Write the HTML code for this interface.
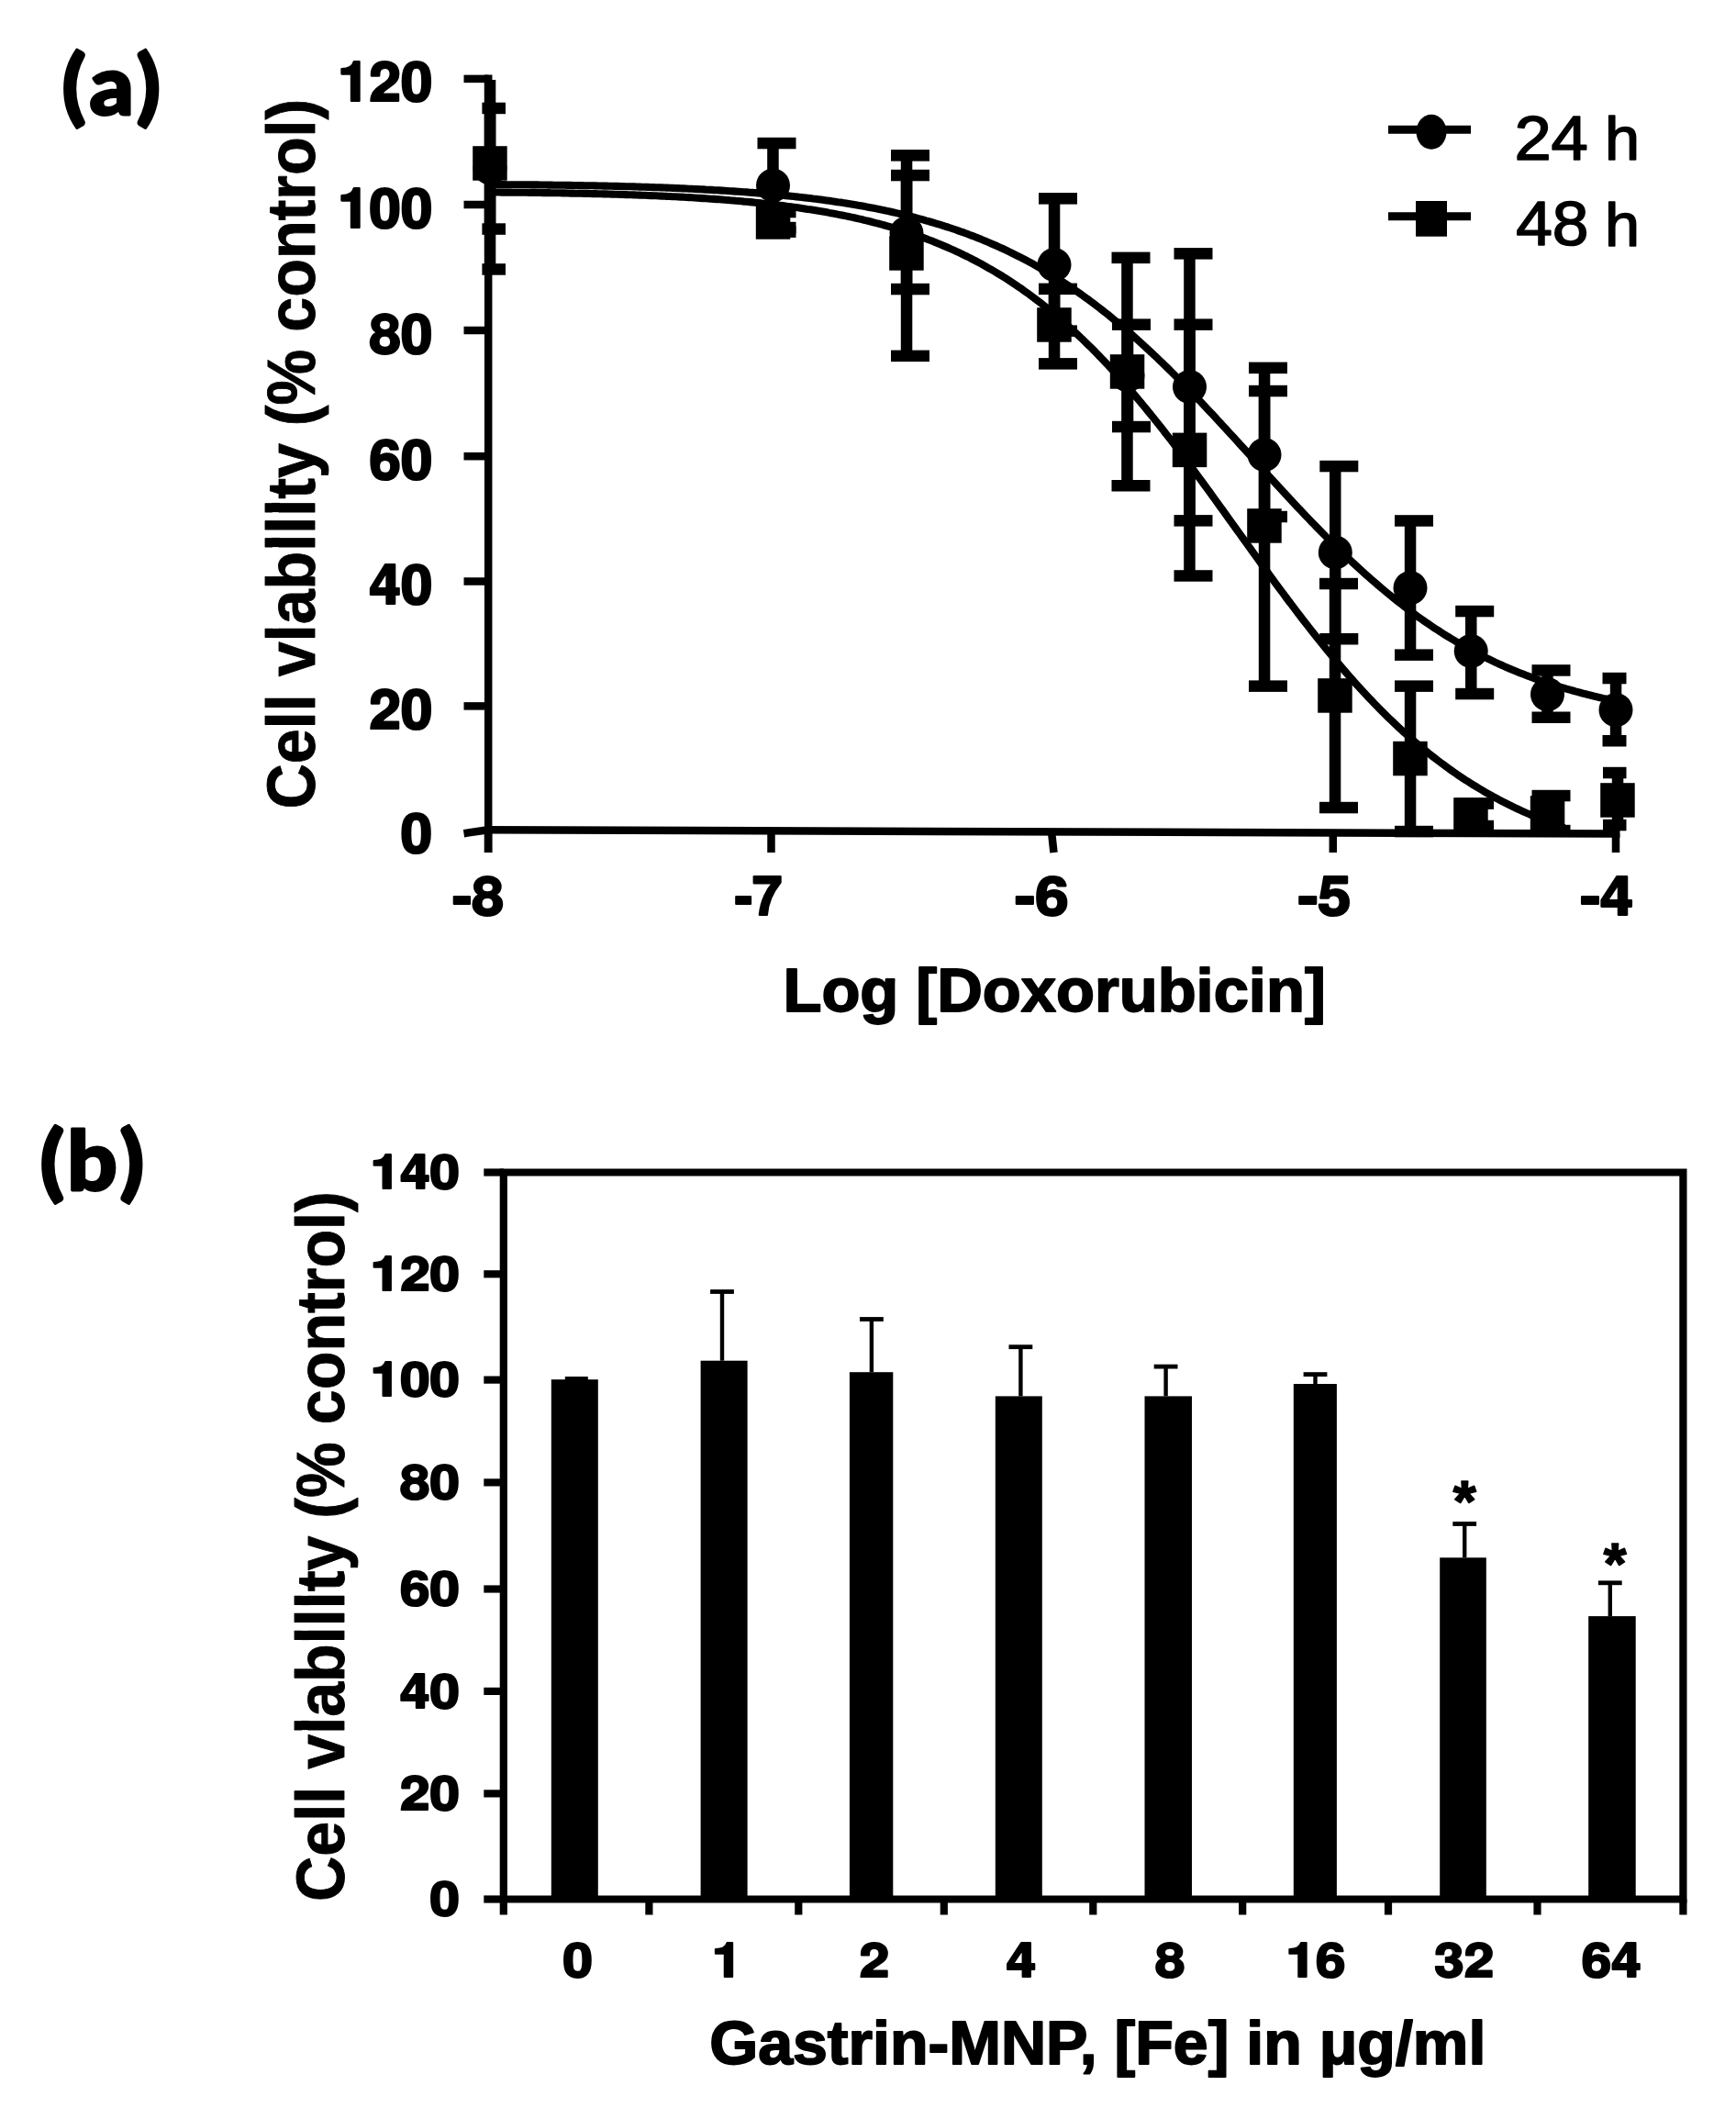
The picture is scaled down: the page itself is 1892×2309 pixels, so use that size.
<!DOCTYPE html>
<html><head><meta charset="utf-8"><title>Cell viability figure</title>
<style>html,body{margin:0;padding:0;background:#fff;}svg{display:block;}</style>
</head><body>
<svg width="1892" height="2309" viewBox="0 0 1892 2309">
<rect width="100%" height="100%" fill="#fff"/>
<text transform="translate(64.40,124.77) scale(1.0649,1)" font-family="Carlito, Calibri, Liberation Sans, sans-serif" font-weight="bold" font-size="95.51" stroke="#000" stroke-width="3" stroke-linejoin="round">(a)</text>
<line x1="532.2" y1="81.6" x2="532.2" y2="929" stroke="#000" stroke-width="8.5"/>
<line x1="528" y1="904.2" x2="1765.5" y2="908.6" stroke="#000" stroke-width="8.5"/>
<line x1="505.5" y1="769.4" x2="532" y2="769.4" stroke="#000" stroke-width="8.5"/>
<line x1="505.5" y1="633.5" x2="532" y2="633.5" stroke="#000" stroke-width="8.5"/>
<line x1="505.5" y1="497.2" x2="532" y2="497.2" stroke="#000" stroke-width="8.5"/>
<line x1="505.5" y1="360" x2="532" y2="360" stroke="#000" stroke-width="8.5"/>
<line x1="505.5" y1="223" x2="532" y2="223" stroke="#000" stroke-width="8.5"/>
<line x1="505.5" y1="85.9" x2="532" y2="85.9" stroke="#000" stroke-width="8.5"/>
<line x1="505.5" y1="908.2" x2="532" y2="904.2" stroke="#000" stroke-width="8.5"/>
<line x1="532" y1="904.2" x2="532" y2="929" stroke="#000" stroke-width="8.5"/>
<line x1="840.5" y1="905.3044751830757" x2="840.5" y2="929" stroke="#000" stroke-width="8.5"/>
<line x1="1146.0" y1="906.4035801464606" x2="1148.5" y2="929" stroke="#000" stroke-width="8.5"/>
<line x1="1452.8" y1="907.4965988608625" x2="1452.8" y2="929" stroke="#000" stroke-width="8.5"/>
<line x1="1761" y1="908.6" x2="1761" y2="929" stroke="#000" stroke-width="8.5"/>
<text transform="translate(436.87,928.70) scale(1.0371,1)" font-family="TeX Gyre Heros, Liberation Sans, Arial, sans-serif" font-weight="bold" font-size="59.59" stroke="#000" stroke-width="2.2" stroke-linejoin="round">0</text>
<text transform="translate(402.57,793.90) scale(1.0371,1)" font-family="TeX Gyre Heros, Liberation Sans, Arial, sans-serif" font-weight="bold" font-size="59.59" stroke="#000" stroke-width="2.2" stroke-linejoin="round">20</text>
<text transform="translate(402.57,658.00) scale(1.0371,1)" font-family="TeX Gyre Heros, Liberation Sans, Arial, sans-serif" font-weight="bold" font-size="59.59" stroke="#000" stroke-width="2.2" stroke-linejoin="round">40</text>
<text transform="translate(402.57,521.70) scale(1.0371,1)" font-family="TeX Gyre Heros, Liberation Sans, Arial, sans-serif" font-weight="bold" font-size="59.59" stroke="#000" stroke-width="2.2" stroke-linejoin="round">60</text>
<text transform="translate(402.57,384.50) scale(1.0371,1)" font-family="TeX Gyre Heros, Liberation Sans, Arial, sans-serif" font-weight="bold" font-size="59.59" stroke="#000" stroke-width="2.2" stroke-linejoin="round">80</text>
<text transform="translate(368.27,247.50) scale(1.0371,1)" font-family="TeX Gyre Heros, Liberation Sans, Arial, sans-serif" font-weight="bold" font-size="59.59" stroke="#000" stroke-width="2.2" stroke-linejoin="round">100</text>
<text transform="translate(368.27,110.40) scale(1.0371,1)" font-family="TeX Gyre Heros, Liberation Sans, Arial, sans-serif" font-weight="bold" font-size="59.59" stroke="#000" stroke-width="2.2" stroke-linejoin="round">120</text>
<text transform="translate(493.34,996.71) scale(1.0661,1)" font-family="TeX Gyre Heros, Liberation Sans, Arial, sans-serif" font-weight="bold" font-size="58.64" stroke="#000" stroke-width="2.2" stroke-linejoin="round">-8</text>
<text transform="translate(800.65,996.71) scale(0.9907,1)" font-family="TeX Gyre Heros, Liberation Sans, Arial, sans-serif" font-weight="bold" font-size="58.64" stroke="#000" stroke-width="2.2" stroke-linejoin="round">-7</text>
<text transform="translate(1106.36,996.71) scale(1.1157,1)" font-family="TeX Gyre Heros, Liberation Sans, Arial, sans-serif" font-weight="bold" font-size="58.64" stroke="#000" stroke-width="2.2" stroke-linejoin="round">-6</text>
<text transform="translate(1414.68,996.71) scale(1.1080,1)" font-family="TeX Gyre Heros, Liberation Sans, Arial, sans-serif" font-weight="bold" font-size="58.64" stroke="#000" stroke-width="2.2" stroke-linejoin="round">-5</text>
<text transform="translate(1722.48,996.71) scale(1.1054,1)" font-family="TeX Gyre Heros, Liberation Sans, Arial, sans-serif" font-weight="bold" font-size="58.64" stroke="#000" stroke-width="2.2" stroke-linejoin="round">-4</text>
<text transform="translate(853.43,1102.11) scale(1.0310,1)" font-family="Liberation Sans, Arial, sans-serif" font-weight="bold" font-size="66.63" stroke="#000" stroke-width="1.8" stroke-linejoin="round">Log [Doxorubicin]</text>
<text transform="translate(343.30,881.43) rotate(-90) scale(1.0040,1.0950)" font-family="Liberation Sans, Arial, sans-serif" font-weight="bold" font-size="68.00" stroke="#000" stroke-width="0.8" stroke-linejoin="round">Cell viability (% control)</text>
<rect x="296.2" y="547.9" width="8.6" height="10.2"/>
<rect x="296.2" y="585.9" width="8.6" height="10.2"/>
<rect x="296.2" y="684.9" width="8.6" height="10.2"/>
<path d="M538.0,201.0 L541.0,201.1 L544.0,201.1 L547.0,201.1 L550.0,201.1 L553.0,201.2 L556.0,201.2 L559.0,201.2 L562.0,201.2 L565.0,201.2 L568.0,201.3 L571.0,201.3 L574.0,201.3 L577.0,201.3 L580.0,201.4 L583.0,201.4 L586.0,201.4 L589.0,201.5 L592.0,201.5 L595.0,201.5 L598.0,201.6 L601.0,201.6 L604.0,201.7 L607.0,201.7 L610.0,201.7 L613.0,201.8 L616.0,201.8 L619.0,201.9 L622.0,201.9 L625.0,202.0 L628.0,202.0 L631.0,202.1 L634.0,202.1 L637.0,202.2 L640.0,202.2 L643.0,202.3 L646.0,202.3 L649.0,202.4 L652.0,202.5 L655.0,202.5 L658.0,202.6 L661.0,202.6 L664.0,202.7 L667.0,202.8 L670.0,202.9 L673.0,202.9 L676.0,203.0 L679.0,203.1 L682.0,203.2 L685.0,203.2 L688.0,203.3 L691.0,203.4 L694.0,203.5 L697.0,203.6 L700.0,203.7 L703.0,203.8 L706.0,203.9 L709.0,204.0 L712.0,204.1 L715.0,204.2 L718.0,204.3 L721.0,204.4 L724.0,204.5 L727.0,204.6 L730.0,204.8 L733.0,204.9 L736.0,205.0 L739.0,205.1 L742.0,205.3 L745.0,205.4 L748.0,205.5 L751.0,205.7 L754.0,205.8 L757.0,206.0 L760.0,206.1 L763.0,206.3 L766.0,206.4 L769.0,206.6 L772.0,206.7 L775.0,206.9 L778.0,207.1 L781.0,207.2 L784.0,207.4 L787.0,207.6 L790.0,207.8 L793.0,208.0 L796.0,208.2 L799.0,208.4 L802.0,208.6 L805.0,208.8 L808.0,209.0 L811.0,209.2 L814.0,209.4 L817.0,209.7 L820.0,209.9 L823.0,210.1 L826.0,210.4 L829.0,210.6 L832.0,210.9 L835.0,211.1 L838.0,211.4 L841.0,211.7 L844.0,211.9 L847.0,212.2 L850.0,212.5 L853.0,212.8 L856.0,213.1 L859.0,213.4 L862.0,213.7 L865.0,214.0 L868.0,214.4 L871.0,214.7 L874.0,215.0 L877.0,215.4 L880.0,215.7 L883.0,216.1 L886.0,216.5 L889.0,216.8 L892.0,217.2 L895.0,217.6 L898.0,218.0 L901.0,218.4 L904.0,218.8 L907.0,219.3 L910.0,219.7 L913.0,220.2 L916.0,220.6 L919.0,221.1 L922.0,221.5 L925.0,222.0 L928.0,222.5 L931.0,223.0 L934.0,223.5 L937.0,224.1 L940.0,224.6 L943.0,225.1 L946.0,225.7 L949.0,226.3 L952.0,226.8 L955.0,227.4 L958.0,228.0 L961.0,228.6 L964.0,229.3 L967.0,229.9 L970.0,230.5 L973.0,231.2 L976.0,231.9 L979.0,232.6 L982.0,233.3 L985.0,234.0 L988.0,234.7 L991.0,235.5 L994.0,236.2 L997.0,237.0 L1000.0,237.8 L1003.0,238.6 L1006.0,239.4 L1009.0,240.3 L1012.0,241.1 L1015.0,242.0 L1018.0,242.9 L1021.0,243.8 L1024.0,244.7 L1027.0,245.6 L1030.0,246.6 L1033.0,247.5 L1036.0,248.5 L1039.0,249.5 L1042.0,250.5 L1045.0,251.6 L1048.0,252.7 L1051.0,253.7 L1054.0,254.8 L1057.0,256.0 L1060.0,257.1 L1063.0,258.3 L1066.0,259.4 L1069.0,260.6 L1072.0,261.9 L1075.0,263.1 L1078.0,264.4 L1081.0,265.7 L1084.0,267.0 L1087.0,268.3 L1090.0,269.7 L1093.0,271.0 L1096.0,272.4 L1099.0,273.9 L1102.0,275.3 L1105.0,276.8 L1108.0,278.3 L1111.0,279.8 L1114.0,281.4 L1117.0,282.9 L1120.0,284.5 L1123.0,286.1 L1126.0,287.8 L1129.0,289.5 L1132.0,291.2 L1135.0,292.9 L1138.0,294.6 L1141.0,296.4 L1144.0,298.2 L1147.0,300.1 L1150.0,301.9 L1153.0,303.8 L1156.0,305.7 L1159.0,307.6 L1162.0,309.6 L1165.0,311.6 L1168.0,313.6 L1171.0,315.7 L1174.0,317.8 L1177.0,319.9 L1180.0,322.0 L1183.0,324.2 L1186.0,326.3 L1189.0,328.6 L1192.0,330.8 L1195.0,333.1 L1198.0,335.4 L1201.0,337.7 L1204.0,340.1 L1207.0,342.4 L1210.0,344.9 L1213.0,347.3 L1216.0,349.8 L1219.0,352.3 L1222.0,354.8 L1225.0,357.3 L1228.0,359.9 L1231.0,362.5 L1234.0,365.1 L1237.0,367.8 L1240.0,370.5 L1243.0,373.2 L1246.0,375.9 L1249.0,378.7 L1252.0,381.4 L1255.0,384.2 L1258.0,387.1 L1261.0,389.9 L1264.0,392.8 L1267.0,395.7 L1270.0,398.6 L1273.0,401.5 L1276.0,404.5 L1279.0,407.5 L1282.0,410.5 L1285.0,413.5 L1288.0,416.6 L1291.0,419.6 L1294.0,422.7 L1297.0,425.8 L1300.0,428.9 L1303.0,432.0 L1306.0,435.2 L1309.0,438.3 L1312.0,441.5 L1315.0,444.7 L1318.0,447.9 L1321.0,451.1 L1324.0,454.3 L1327.0,457.6 L1330.0,460.8 L1333.0,464.1 L1336.0,467.3 L1339.0,470.6 L1342.0,473.9 L1345.0,477.1 L1348.0,480.4 L1351.0,483.7 L1354.0,487.0 L1357.0,490.3 L1360.0,493.6 L1363.0,496.9 L1366.0,500.2 L1369.0,503.5 L1372.0,506.8 L1375.0,510.1 L1378.0,513.4 L1381.0,516.7 L1384.0,520.0 L1387.0,523.2 L1390.0,526.5 L1393.0,529.8 L1396.0,533.0 L1399.0,536.3 L1402.0,539.5 L1405.0,542.8 L1408.0,546.0 L1411.0,549.2 L1414.0,552.4 L1417.0,555.6 L1420.0,558.7 L1423.0,561.9 L1426.0,565.0 L1429.0,568.2 L1432.0,571.3 L1435.0,574.4 L1438.0,577.4 L1441.0,580.5 L1444.0,583.5 L1447.0,586.5 L1450.0,589.5 L1453.0,592.5 L1456.0,595.5 L1459.0,598.4 L1462.0,601.3 L1465.0,604.2 L1468.0,607.0 L1471.0,609.9 L1474.0,612.7 L1477.0,615.5 L1480.0,618.3 L1483.0,621.0 L1486.0,623.7 L1489.0,626.4 L1492.0,629.1 L1495.0,631.7 L1498.0,634.3 L1501.0,636.9 L1504.0,639.5 L1507.0,642.0 L1510.0,644.5 L1513.0,647.0 L1516.0,649.4 L1519.0,651.9 L1522.0,654.2 L1525.0,656.6 L1528.0,658.9 L1531.0,661.3 L1534.0,663.5 L1537.0,665.8 L1540.0,668.0 L1543.0,670.2 L1546.0,672.4 L1549.0,674.5 L1552.0,676.6 L1555.0,678.7 L1558.0,680.7 L1561.0,682.8 L1564.0,684.8 L1567.0,686.7 L1570.0,688.7 L1573.0,690.6 L1576.0,692.5 L1579.0,694.3 L1582.0,696.1 L1585.0,697.9 L1588.0,699.7 L1591.0,701.5 L1594.0,703.2 L1597.0,704.9 L1600.0,706.5 L1603.0,708.2 L1606.0,709.8 L1609.0,711.4 L1612.0,712.9 L1615.0,714.5 L1618.0,716.0 L1621.0,717.5 L1624.0,718.9 L1627.0,720.4 L1630.0,721.8 L1633.0,723.2 L1636.0,724.5 L1639.0,725.9 L1642.0,727.2 L1645.0,728.5 L1648.0,729.8 L1651.0,731.0 L1654.0,732.2 L1657.0,733.4 L1660.0,734.6 L1663.0,735.8 L1666.0,736.9 L1669.0,738.0 L1672.0,739.1 L1675.0,740.2 L1678.0,741.3 L1681.0,742.3 L1684.0,743.3 L1687.0,744.4 L1690.0,745.3 L1693.0,746.3 L1696.0,747.2 L1699.0,748.2 L1702.0,749.1 L1705.0,750.0 L1708.0,750.8 L1711.0,751.7 L1714.0,752.5 L1717.0,753.4 L1720.0,754.2 L1723.0,755.0 L1726.0,755.8 L1729.0,756.5 L1732.0,757.3 L1735.0,758.0 L1738.0,758.8 L1741.0,759.5 L1744.0,760.2 L1747.0,760.9 L1750.0,761.5 L1753.0,762.2 L1756.0,762.8 L1759.0,763.5 L1762.0,764.1 L1765.0,764.7" fill="none" stroke="#000" stroke-width="8.1" stroke-linejoin="round"/>
<path d="M538.0,209.5 L541.0,209.5 L544.0,209.5 L547.0,209.6 L550.0,209.6 L553.0,209.6 L556.0,209.6 L559.0,209.7 L562.0,209.7 L565.0,209.7 L568.0,209.8 L571.0,209.8 L574.0,209.8 L577.0,209.9 L580.0,209.9 L583.0,209.9 L586.0,210.0 L589.0,210.0 L592.0,210.1 L595.0,210.1 L598.0,210.1 L601.0,210.2 L604.0,210.2 L607.0,210.3 L610.0,210.3 L613.0,210.4 L616.0,210.4 L619.0,210.5 L622.0,210.6 L625.0,210.6 L628.0,210.7 L631.0,210.7 L634.0,210.8 L637.0,210.9 L640.0,210.9 L643.0,211.0 L646.0,211.1 L649.0,211.1 L652.0,211.2 L655.0,211.3 L658.0,211.4 L661.0,211.4 L664.0,211.5 L667.0,211.6 L670.0,211.7 L673.0,211.8 L676.0,211.9 L679.0,212.0 L682.0,212.1 L685.0,212.2 L688.0,212.3 L691.0,212.4 L694.0,212.5 L697.0,212.6 L700.0,212.7 L703.0,212.8 L706.0,213.0 L709.0,213.1 L712.0,213.2 L715.0,213.3 L718.0,213.5 L721.0,213.6 L724.0,213.7 L727.0,213.9 L730.0,214.0 L733.0,214.2 L736.0,214.3 L739.0,214.5 L742.0,214.6 L745.0,214.8 L748.0,215.0 L751.0,215.1 L754.0,215.3 L757.0,215.5 L760.0,215.7 L763.0,215.9 L766.0,216.1 L769.0,216.3 L772.0,216.5 L775.0,216.7 L778.0,216.9 L781.0,217.1 L784.0,217.3 L787.0,217.5 L790.0,217.8 L793.0,218.0 L796.0,218.3 L799.0,218.5 L802.0,218.8 L805.0,219.0 L808.0,219.3 L811.0,219.6 L814.0,219.8 L817.0,220.1 L820.0,220.4 L823.0,220.7 L826.0,221.0 L829.0,221.3 L832.0,221.7 L835.0,222.0 L838.0,222.3 L841.0,222.7 L844.0,223.0 L847.0,223.4 L850.0,223.7 L853.0,224.1 L856.0,224.5 L859.0,224.9 L862.0,225.3 L865.0,225.7 L868.0,226.1 L871.0,226.5 L874.0,227.0 L877.0,227.4 L880.0,227.9 L883.0,228.3 L886.0,228.8 L889.0,229.3 L892.0,229.8 L895.0,230.3 L898.0,230.8 L901.0,231.3 L904.0,231.9 L907.0,232.4 L910.0,233.0 L913.0,233.6 L916.0,234.2 L919.0,234.8 L922.0,235.4 L925.0,236.0 L928.0,236.6 L931.0,237.3 L934.0,238.0 L937.0,238.6 L940.0,239.3 L943.0,240.1 L946.0,240.8 L949.0,241.5 L952.0,242.3 L955.0,243.1 L958.0,243.8 L961.0,244.7 L964.0,245.5 L967.0,246.3 L970.0,247.2 L973.0,248.1 L976.0,248.9 L979.0,249.9 L982.0,250.8 L985.0,251.7 L988.0,252.7 L991.0,253.7 L994.0,254.7 L997.0,255.7 L1000.0,256.8 L1003.0,257.8 L1006.0,258.9 L1009.0,260.0 L1012.0,261.2 L1015.0,262.3 L1018.0,263.5 L1021.0,264.7 L1024.0,265.9 L1027.0,267.2 L1030.0,268.5 L1033.0,269.8 L1036.0,271.1 L1039.0,272.4 L1042.0,273.8 L1045.0,275.2 L1048.0,276.6 L1051.0,278.1 L1054.0,279.5 L1057.0,281.0 L1060.0,282.6 L1063.0,284.1 L1066.0,285.7 L1069.0,287.3 L1072.0,289.0 L1075.0,290.7 L1078.0,292.4 L1081.0,294.1 L1084.0,295.9 L1087.0,297.7 L1090.0,299.5 L1093.0,301.3 L1096.0,303.2 L1099.0,305.1 L1102.0,307.1 L1105.0,309.1 L1108.0,311.1 L1111.0,313.2 L1114.0,315.2 L1117.0,317.4 L1120.0,319.5 L1123.0,321.7 L1126.0,323.9 L1129.0,326.2 L1132.0,328.5 L1135.0,330.8 L1138.0,333.1 L1141.0,335.5 L1144.0,338.0 L1147.0,340.4 L1150.0,342.9 L1153.0,345.5 L1156.0,348.0 L1159.0,350.6 L1162.0,353.3 L1165.0,356.0 L1168.0,358.7 L1171.0,361.4 L1174.0,364.2 L1177.0,367.1 L1180.0,369.9 L1183.0,372.8 L1186.0,375.8 L1189.0,378.7 L1192.0,381.7 L1195.0,384.8 L1198.0,387.9 L1201.0,391.0 L1204.0,394.1 L1207.0,397.3 L1210.0,400.5 L1213.0,403.8 L1216.0,407.1 L1219.0,410.4 L1222.0,413.7 L1225.0,417.1 L1228.0,420.6 L1231.0,424.0 L1234.0,427.5 L1237.0,431.0 L1240.0,434.6 L1243.0,438.1 L1246.0,441.8 L1249.0,445.4 L1252.0,449.1 L1255.0,452.8 L1258.0,456.5 L1261.0,460.2 L1264.0,464.0 L1267.0,467.8 L1270.0,471.7 L1273.0,475.5 L1276.0,479.4 L1279.0,483.3 L1282.0,487.2 L1285.0,491.2 L1288.0,495.1 L1291.0,499.1 L1294.0,503.1 L1297.0,507.1 L1300.0,511.2 L1303.0,515.2 L1306.0,519.3 L1309.0,523.4 L1312.0,527.5 L1315.0,531.6 L1318.0,535.7 L1321.0,539.8 L1324.0,544.0 L1327.0,548.1 L1330.0,552.3 L1333.0,556.4 L1336.0,560.6 L1339.0,564.8 L1342.0,569.0 L1345.0,573.1 L1348.0,577.3 L1351.0,581.5 L1354.0,585.7 L1357.0,589.8 L1360.0,594.0 L1363.0,598.2 L1366.0,602.3 L1369.0,606.5 L1372.0,610.6 L1375.0,614.8 L1378.0,618.9 L1381.0,623.0 L1384.0,627.1 L1387.0,631.2 L1390.0,635.3 L1393.0,639.4 L1396.0,643.4 L1399.0,647.4 L1402.0,651.5 L1405.0,655.5 L1408.0,659.4 L1411.0,663.4 L1414.0,667.4 L1417.0,671.3 L1420.0,675.2 L1423.0,679.0 L1426.0,682.9 L1429.0,686.7 L1432.0,690.5 L1435.0,694.3 L1438.0,698.1 L1441.0,701.8 L1444.0,705.5 L1447.0,709.1 L1450.0,712.8 L1453.0,716.4 L1456.0,720.0 L1459.0,723.5 L1462.0,727.0 L1465.0,730.5 L1468.0,734.0 L1471.0,737.4 L1474.0,740.8 L1477.0,744.2 L1480.0,747.5 L1483.0,750.8 L1486.0,754.0 L1489.0,757.2 L1492.0,760.4 L1495.0,763.6 L1498.0,766.7 L1501.0,769.8 L1504.0,772.8 L1507.0,775.8 L1510.0,778.8 L1513.0,781.8 L1516.0,784.7 L1519.0,787.5 L1522.0,790.4 L1525.0,793.2 L1528.0,795.9 L1531.0,798.7 L1534.0,801.3 L1537.0,804.0 L1540.0,806.6 L1543.0,809.2 L1546.0,811.7 L1549.0,814.3 L1552.0,816.7 L1555.0,819.2 L1558.0,821.6 L1561.0,824.0 L1564.0,826.3 L1567.0,828.6 L1570.0,830.9 L1573.0,833.1 L1576.0,835.3 L1579.0,837.5 L1582.0,839.6 L1585.0,841.7 L1588.0,843.8 L1591.0,845.8 L1594.0,847.8 L1597.0,849.8 L1600.0,851.7 L1603.0,853.6 L1606.0,855.5 L1609.0,857.3 L1612.0,859.1 L1615.0,860.9 L1618.0,862.7 L1621.0,864.4 L1624.0,866.1 L1627.0,867.8 L1630.0,869.4 L1633.0,871.0 L1636.0,872.6 L1639.0,874.1 L1642.0,875.6 L1645.0,877.1 L1648.0,878.6 L1651.0,880.1 L1654.0,881.5 L1657.0,882.9 L1660.0,884.3 L1663.0,885.6 L1666.0,886.9 L1669.0,888.2 L1672.0,889.5 L1675.0,890.8 L1678.0,892.0 L1681.0,893.2 L1684.0,894.4 L1687.0,895.6 L1690.0,896.7 L1693.0,897.8 L1696.0,898.9 L1699.0,900.0 L1702.0,901.1 L1705.0,902.1" fill="none" stroke="#000" stroke-width="8.1" stroke-linejoin="round"/>
<g fill="#000"><rect x="527.8" y="87.0" width="12.5" height="206.5"/><rect x="525.4" y="287.2" width="25.6" height="12.5"/><rect x="836.2" y="156.0" width="12.5" height="92.0"/><rect x="825.5" y="149.8" width="42.0" height="12.5"/><rect x="825.5" y="241.8" width="42.0" height="12.5"/><rect x="981.8" y="191.0" width="12.5" height="124.0"/><rect x="971.0" y="184.8" width="42.0" height="12.5"/><rect x="971.0" y="308.8" width="42.0" height="12.5"/><rect x="1142.8" y="216.3" width="12.5" height="144.4"/><rect x="1132.0" y="210.1" width="42.0" height="12.5"/><rect x="1132.0" y="354.4" width="42.0" height="12.5"/><rect x="1222.8" y="353.7" width="12.5" height="111.3"/><rect x="1212.0" y="347.4" width="42.0" height="12.5"/><rect x="1212.0" y="458.8" width="42.0" height="12.5"/><rect x="1290.2" y="276.4" width="12.5" height="291.0"/><rect x="1279.5" y="270.1" width="42.0" height="12.5"/><rect x="1279.5" y="561.1" width="42.0" height="12.5"/><rect x="1371.8" y="426.0" width="12.5" height="137.0"/><rect x="1361.0" y="419.8" width="42.0" height="12.5"/><rect x="1361.0" y="556.8" width="42.0" height="12.5"/><rect x="1449.0" y="508.0" width="12.5" height="188.3"/><rect x="1438.3" y="501.8" width="42.0" height="12.5"/><rect x="1438.3" y="690.0" width="42.0" height="12.5"/><rect x="1530.8" y="567.5" width="12.5" height="146.1"/><rect x="1520.0" y="561.2" width="42.0" height="12.5"/><rect x="1520.0" y="707.4" width="42.0" height="12.5"/><rect x="1597.0" y="666.0" width="12.5" height="90.0"/><rect x="1586.2" y="659.8" width="42.0" height="12.5"/><rect x="1586.2" y="749.8" width="42.0" height="12.5"/><rect x="1680.2" y="730.5" width="12.5" height="51.3"/><rect x="1669.5" y="724.2" width="42.0" height="12.5"/><rect x="1669.5" y="775.5" width="42.0" height="12.5"/><rect x="1754.8" y="739.0" width="12.5" height="68.3"/><rect x="1746.5" y="732.8" width="26.0" height="12.5"/><rect x="1746.5" y="801.0" width="26.0" height="12.5"/><rect x="527.8" y="117.9" width="12.5" height="131.7"/><rect x="525.4" y="111.7" width="25.6" height="12.5"/><rect x="525.4" y="243.3" width="25.6" height="12.5"/><rect x="836.2" y="231.0" width="12.5" height="21.7"/><rect x="825.5" y="224.8" width="42.0" height="12.5"/><rect x="825.5" y="246.4" width="42.0" height="12.5"/><rect x="981.8" y="169.3" width="12.5" height="218.5"/><rect x="971.0" y="163.1" width="42.0" height="12.5"/><rect x="971.0" y="381.6" width="42.0" height="12.5"/><rect x="1142.8" y="314.8" width="12.5" height="81.6"/><rect x="1132.0" y="308.6" width="42.0" height="12.5"/><rect x="1132.0" y="390.1" width="42.0" height="12.5"/><rect x="1222.2" y="280.8" width="12.5" height="248.5"/><rect x="1211.5" y="274.6" width="42.0" height="12.5"/><rect x="1211.5" y="523.0" width="42.0" height="12.5"/><rect x="1290.2" y="353.7" width="12.5" height="273.8"/><rect x="1279.5" y="347.4" width="42.0" height="12.5"/><rect x="1279.5" y="621.2" width="42.0" height="12.5"/><rect x="1371.8" y="400.8" width="12.5" height="346.8"/><rect x="1361.0" y="394.6" width="42.0" height="12.5"/><rect x="1361.0" y="741.4" width="42.0" height="12.5"/><rect x="1448.8" y="636.0" width="12.5" height="244.0"/><rect x="1438.0" y="629.8" width="42.0" height="12.5"/><rect x="1438.0" y="873.8" width="42.0" height="12.5"/><rect x="1530.8" y="747.6" width="12.5" height="158.4"/><rect x="1520.0" y="741.4" width="42.0" height="12.5"/><rect x="1520.0" y="899.8" width="42.0" height="12.5"/><rect x="1596.8" y="875.6" width="12.5" height="24.4"/><rect x="1586.0" y="869.4" width="42.0" height="12.5"/><rect x="1586.0" y="893.8" width="42.0" height="12.5"/><rect x="1680.2" y="867.0" width="12.5" height="38.0"/><rect x="1669.5" y="860.8" width="42.0" height="12.5"/><rect x="1669.5" y="898.8" width="42.0" height="12.5"/><rect x="1756.8" y="842.0" width="12.5" height="57.0"/><rect x="1747.0" y="835.8" width="25.5" height="12.5"/><rect x="1747.0" y="892.8" width="25.5" height="12.5"/><circle cx="534" cy="183" r="18.5"/><circle cx="842.5" cy="202" r="18.5"/><circle cx="988" cy="254" r="18.5"/><circle cx="1149" cy="288.5" r="18.5"/><circle cx="1229" cy="409" r="18.5"/><circle cx="1296.5" cy="421.5" r="18.5"/><circle cx="1378" cy="495.5" r="18.5"/><circle cx="1455.3" cy="602" r="18.5"/><circle cx="1537" cy="640.7" r="18.5"/><circle cx="1603.2" cy="709.5" r="18.5"/><circle cx="1686.5" cy="756.7" r="18.5"/><circle cx="1761" cy="773.7" r="18.5"/><rect x="515.2" y="159.2" width="37.5" height="37.5"/><rect x="823.8" y="223.2" width="37.5" height="37.5"/><rect x="969.2" y="257.2" width="37.5" height="37.5"/><rect x="1130.2" y="335.2" width="37.5" height="37.5"/><rect x="1209.8" y="386.2" width="37.5" height="37.5"/><rect x="1277.8" y="471.6" width="37.5" height="37.5"/><rect x="1359.2" y="554.2" width="37.5" height="37.5"/><rect x="1436.2" y="739.2" width="37.5" height="37.5"/><rect x="1518.2" y="807.8" width="37.5" height="37.5"/><rect x="1584.2" y="869.2" width="37.5" height="37.5"/><rect x="1667.8" y="867.2" width="37.5" height="37.5"/><rect x="1744.2" y="853.2" width="37.5" height="37.5"/></g>
<line x1="1513" y1="141.3" x2="1603" y2="141.3" stroke="#000" stroke-width="9"/>
<ellipse cx="1560" cy="143.8" rx="16.5" ry="19"/>
<line x1="1513" y1="235.7" x2="1603" y2="235.7" stroke="#000" stroke-width="9"/>
<rect x="1543" y="219" width="34" height="38.7"/>
<text transform="translate(1650.38,173.80) scale(1.0526,1)" font-family="Liberation Sans, Arial, sans-serif" font-size="68.71" stroke="#000" stroke-width="1.6" stroke-linejoin="round">24</text>
<text transform="translate(1749.02,173.80) scale(1.0300,1)" font-family="Liberation Sans, Arial, sans-serif" font-size="66.34" stroke="#000" stroke-width="1.6" stroke-linejoin="round">h</text>
<text transform="translate(1652.22,267.22) scale(1.0501,1)" font-family="Liberation Sans, Arial, sans-serif" font-size="67.89" stroke="#000" stroke-width="1.6" stroke-linejoin="round">48</text>
<text transform="translate(1749.02,267.90) scale(1.0278,1)" font-family="Liberation Sans, Arial, sans-serif" font-size="66.48" stroke="#000" stroke-width="1.6" stroke-linejoin="round">h</text>
<text transform="translate(40.40,1297.11) scale(1.0838,1)" font-family="Carlito, Calibri, Liberation Sans, sans-serif" font-weight="bold" font-size="95.28" stroke="#000" stroke-width="3" stroke-linejoin="round">(b)</text>
<path d="M548.8,2069.5 V1277.5 H1834.4 V2069.5 Z" fill="none" stroke="#000" stroke-width="8.2"/>
<line x1="527.3" y1="2069.5" x2="548.8" y2="2069.5" stroke="#000" stroke-width="8.2"/>
<line x1="527.3" y1="1954.4" x2="548.8" y2="1954.4" stroke="#000" stroke-width="8.2"/>
<line x1="527.3" y1="1842.9" x2="548.8" y2="1842.9" stroke="#000" stroke-width="8.2"/>
<line x1="527.3" y1="1731.5" x2="548.8" y2="1731.5" stroke="#000" stroke-width="8.2"/>
<line x1="527.3" y1="1615.4" x2="548.8" y2="1615.4" stroke="#000" stroke-width="8.2"/>
<line x1="527.3" y1="1503.6" x2="548.8" y2="1503.6" stroke="#000" stroke-width="8.2"/>
<line x1="527.3" y1="1388.3" x2="548.8" y2="1388.3" stroke="#000" stroke-width="8.2"/>
<line x1="527.3" y1="1277.5" x2="548.8" y2="1277.5" stroke="#000" stroke-width="8.2"/>
<line x1="548.8" y1="2069.5" x2="548.8" y2="2086.5" stroke="#000" stroke-width="8.2"/>
<line x1="707.4" y1="2069.5" x2="707.4" y2="2086.5" stroke="#000" stroke-width="8.2"/>
<line x1="870.3" y1="2069.5" x2="870.3" y2="2086.5" stroke="#000" stroke-width="8.2"/>
<line x1="1028.8" y1="2069.5" x2="1028.8" y2="2086.5" stroke="#000" stroke-width="8.2"/>
<line x1="1191.3" y1="2069.5" x2="1191.3" y2="2086.5" stroke="#000" stroke-width="8.2"/>
<line x1="1354.2" y1="2069.5" x2="1354.2" y2="2086.5" stroke="#000" stroke-width="8.2"/>
<line x1="1513.0" y1="2069.5" x2="1513.0" y2="2086.5" stroke="#000" stroke-width="8.2"/>
<line x1="1675.5" y1="2069.5" x2="1675.5" y2="2086.5" stroke="#000" stroke-width="8.2"/>
<line x1="1834.4" y1="2069.5" x2="1834.4" y2="2086.5" stroke="#000" stroke-width="8.2"/>
<text transform="translate(468.46,2087.38) scale(1.1282,1)" font-family="TeX Gyre Heros, Liberation Sans, Arial, sans-serif" font-weight="bold" font-size="51.70" stroke="#000" stroke-width="2.0" stroke-linejoin="round">0</text>
<text transform="translate(436.09,1972.28) scale(1.1282,1)" font-family="TeX Gyre Heros, Liberation Sans, Arial, sans-serif" font-weight="bold" font-size="51.70" stroke="#000" stroke-width="2.0" stroke-linejoin="round">20</text>
<text transform="translate(436.09,1860.78) scale(1.1282,1)" font-family="TeX Gyre Heros, Liberation Sans, Arial, sans-serif" font-weight="bold" font-size="51.70" stroke="#000" stroke-width="2.0" stroke-linejoin="round">40</text>
<text transform="translate(436.09,1749.38) scale(1.1282,1)" font-family="TeX Gyre Heros, Liberation Sans, Arial, sans-serif" font-weight="bold" font-size="51.70" stroke="#000" stroke-width="2.0" stroke-linejoin="round">60</text>
<text transform="translate(436.09,1633.28) scale(1.1282,1)" font-family="TeX Gyre Heros, Liberation Sans, Arial, sans-serif" font-weight="bold" font-size="51.70" stroke="#000" stroke-width="2.0" stroke-linejoin="round">80</text>
<text transform="translate(403.72,1521.48) scale(1.1282,1)" font-family="TeX Gyre Heros, Liberation Sans, Arial, sans-serif" font-weight="bold" font-size="51.70" stroke="#000" stroke-width="2.0" stroke-linejoin="round">100</text>
<text transform="translate(403.72,1406.18) scale(1.1282,1)" font-family="TeX Gyre Heros, Liberation Sans, Arial, sans-serif" font-weight="bold" font-size="51.70" stroke="#000" stroke-width="2.0" stroke-linejoin="round">120</text>
<text transform="translate(403.72,1295.38) scale(1.1282,1)" font-family="TeX Gyre Heros, Liberation Sans, Arial, sans-serif" font-weight="bold" font-size="51.70" stroke="#000" stroke-width="2.0" stroke-linejoin="round">140</text>
<rect x="615.8" y="1500.0" width="25" height="4"/>
<rect x="600.8" y="1503.2" width="51.0" height="566.3"/>
<text transform="translate(613.51,2154.08) scale(1.1282,1)" font-family="TeX Gyre Heros, Liberation Sans, Arial, sans-serif" font-weight="bold" font-size="51.70" stroke="#000" stroke-width="2.0" stroke-linejoin="round">0</text>
<rect x="784.8" y="1407.5" width="4.4" height="75.2"/>
<rect x="774.1" y="1405.1" width="25.8" height="4.8"/>
<rect x="763.6" y="1482.7" width="51.0" height="586.8"/>
<text transform="translate(775.88,2153.95) scale(1.1282,1)" font-family="TeX Gyre Heros, Liberation Sans, Arial, sans-serif" font-weight="bold" font-size="51.70" stroke="#000" stroke-width="2.0" stroke-linejoin="round">1</text>
<rect x="947.7" y="1437.5" width="4.4" height="57.7"/>
<rect x="937.0" y="1435.1" width="25.8" height="4.8"/>
<rect x="925.9" y="1495.2" width="47.4" height="574.3"/>
<text transform="translate(936.71,2154.34) scale(1.1282,1)" font-family="TeX Gyre Heros, Liberation Sans, Arial, sans-serif" font-weight="bold" font-size="51.70" stroke="#000" stroke-width="2.0" stroke-linejoin="round">2</text>
<rect x="1110.2" y="1467.7" width="4.4" height="53.7"/>
<rect x="1099.5" y="1465.3" width="25.8" height="4.8"/>
<rect x="1084.8" y="1521.4" width="51.0" height="548.1"/>
<text transform="translate(1096.81,2153.95) scale(1.1282,1)" font-family="TeX Gyre Heros, Liberation Sans, Arial, sans-serif" font-weight="bold" font-size="51.70" stroke="#000" stroke-width="2.0" stroke-linejoin="round">4</text>
<rect x="1268.4" y="1489.1" width="4.4" height="32.3"/>
<rect x="1257.7" y="1486.7" width="25.8" height="4.8"/>
<rect x="1247.5" y="1521.4" width="51.5" height="548.1"/>
<text transform="translate(1259.11,2154.08) scale(1.1282,1)" font-family="TeX Gyre Heros, Liberation Sans, Arial, sans-serif" font-weight="bold" font-size="51.70" stroke="#000" stroke-width="2.0" stroke-linejoin="round">8</text>
<rect x="1431.3" y="1497.6" width="4.4" height="10.4"/>
<rect x="1420.6" y="1495.2" width="25.8" height="4.8"/>
<rect x="1409.8" y="1508.0" width="47.1" height="561.5"/>
<text transform="translate(1401.46,2154.08) scale(1.1282,1)" font-family="TeX Gyre Heros, Liberation Sans, Arial, sans-serif" font-weight="bold" font-size="51.70" stroke="#000" stroke-width="2.0" stroke-linejoin="round">16</text>
<rect x="1594.0" y="1660.5" width="4.4" height="36.8"/>
<rect x="1583.3" y="1658.1" width="25.8" height="4.8"/>
<rect x="1569.2" y="1697.3" width="50.6" height="372.2"/>
<text transform="translate(1563.37,2154.08) scale(1.1282,1)" font-family="TeX Gyre Heros, Liberation Sans, Arial, sans-serif" font-weight="bold" font-size="51.70" stroke="#000" stroke-width="2.0" stroke-linejoin="round">32</text>
<rect x="1752.6" y="1724.8" width="4.4" height="36.3"/>
<rect x="1741.9" y="1722.4" width="25.8" height="4.8"/>
<rect x="1731.2" y="1761.1" width="51.5" height="308.4"/>
<text transform="translate(1723.87,2154.08) scale(1.1282,1)" font-family="TeX Gyre Heros, Liberation Sans, Arial, sans-serif" font-weight="bold" font-size="51.70" stroke="#000" stroke-width="2.0" stroke-linejoin="round">64</text>
<text transform="translate(1583.68,1656.69) scale(1.0330,1)" font-family="Liberation Sans, Arial, sans-serif" font-weight="bold" font-size="62.16" stroke="#000" stroke-width="1.6" stroke-linejoin="round">*</text>
<text transform="translate(1747.68,1725.06) scale(1.0157,1)" font-family="Liberation Sans, Arial, sans-serif" font-weight="bold" font-size="62.70" stroke="#000" stroke-width="1.6" stroke-linejoin="round">*</text>
<text transform="translate(773.18,2248.65) scale(1.0253,1)" font-family="Liberation Sans, Arial, sans-serif" font-weight="bold" font-size="66.42" stroke="#000" stroke-width="1.8" stroke-linejoin="round">Gastrin-MNP, [Fe] in μg/ml</text>
<text transform="translate(375.40,2071.93) rotate(-90) scale(1.0040,1.0950)" font-family="Liberation Sans, Arial, sans-serif" font-weight="bold" font-size="68.00" stroke="#000" stroke-width="0.8" stroke-linejoin="round">Cell viability (% control)</text>
<rect x="328.2" y="1738.9" width="8.6" height="10.2"/>
<rect x="328.2" y="1776.9" width="8.6" height="10.2"/>
<rect x="328.2" y="1874.9" width="8.6" height="10.2"/>
</svg>
</body></html>
